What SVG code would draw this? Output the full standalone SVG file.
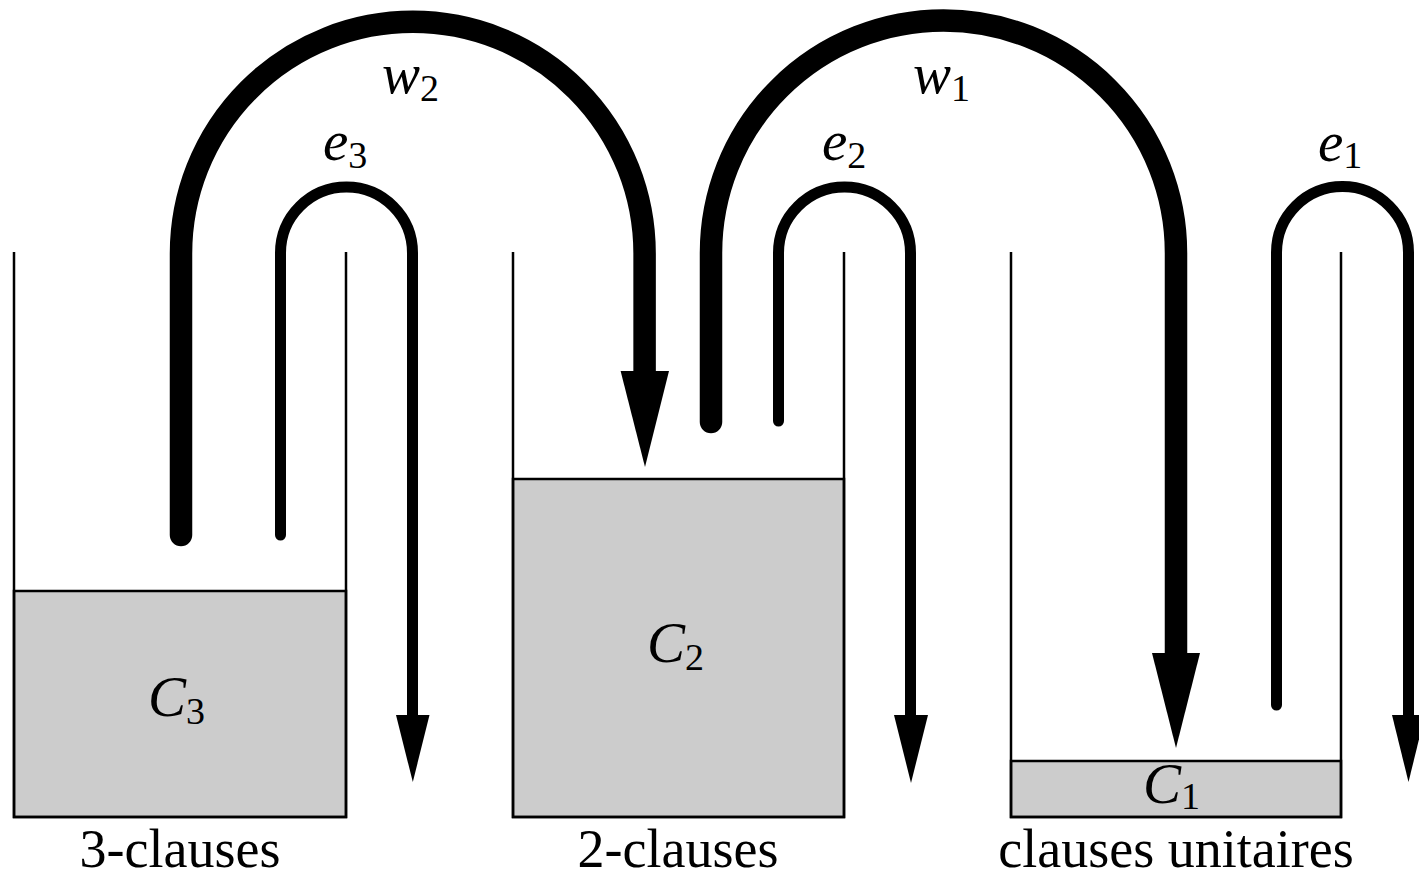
<svg xmlns="http://www.w3.org/2000/svg" width="1419" height="877" viewBox="0 0 1419 877">
  <style>
    .wall { fill: none; stroke: #000; stroke-width: 2.5; }
    .fill { fill: #cccccc; stroke: #000; stroke-width: 2.5; }
    .pipe { fill: none; stroke: #000; stroke-linecap: round; }
    .thin { stroke-width: 11; }
    .thick { stroke-width: 22.5; }
    .head { fill: #000; }
    .m { font-family: "Liberation Serif", "DejaVu Serif", serif; font-style: italic; font-size: 57px; fill: #000; }
    .sub { font-style: normal; font-size: 38px; }
    .lbl { font-family: "Liberation Serif", "DejaVu Serif", serif; font-size: 54px; fill: #000; text-anchor: middle; }
  </style>
  <rect width="1419" height="877" fill="#fff"/>

  <!-- reservoir of 3-clauses -->
  <g id="tank3">
    <rect class="fill" x="14" y="591" width="332" height="226"/>
    <path class="wall" d="M14,252 V817 H346 V252"/>
    <text class="m" x="148" y="716">C<tspan class="sub" dy="8">3</tspan></text>
    <text class="lbl" x="180" y="867">3-clauses</text>
  </g>

  <!-- reservoir of 2-clauses -->
  <g id="tank2">
    <rect class="fill" x="513" y="479" width="331" height="338"/>
    <path class="wall" d="M513,252 V817 H844 V252"/>
    <text class="m" x="647" y="662">C<tspan class="sub" dy="8">2</tspan></text>
    <text class="lbl" x="678" y="867">2-clauses</text>
  </g>

  <!-- reservoir of unit clauses -->
  <g id="tank1">
    <rect class="fill" x="1011" y="761" width="330" height="56"/>
    <path class="wall" d="M1011,252 V817 H1341 V252"/>
    <text class="m" x="1143" y="803">C<tspan class="sub" dy="6">1</tspan></text>
    <text class="lbl" x="1176" y="867">clauses unitaires</text>
  </g>

  <!-- flows between reservoirs -->
  <g id="connectors">
    <g id="e3">
      <path class="pipe thin" d="M280.5,535 V253 A66,66 0 0 1 412.5,253 V716"/>
      <polygon class="head" points="396,715 429.5,715 412.8,782"/>
      <text class="m" x="323" y="160">e<tspan class="sub" dy="8">3</tspan></text>
    </g>
    <g id="w2">
      <path class="pipe thick" d="M181,535 V253.5 A231.8,231.8 0 0 1 644.6,253.5 V372"/>
      <polygon class="head" points="620.6,371 669,371 645,467"/>
      <text class="m" x="382" y="93">w<tspan class="sub" dy="8">2</tspan></text>
    </g>
    <g id="e2">
      <path class="pipe thin" d="M778.5,421 V253 A66,66 0 0 1 910.5,253 V716"/>
      <polygon class="head" points="894,715 928,715 911,783"/>
      <text class="m" x="822" y="160">e<tspan class="sub" dy="8">2</tspan></text>
    </g>
    <g id="w1">
      <path class="pipe thick" d="M711,422 V253 A232.5,232.5 0 0 1 1176,253 V654"/>
      <polygon class="head" points="1152,653 1200,653 1176,748"/>
      <text class="m" x="913" y="93">w<tspan class="sub" dy="8">1</tspan></text>
    </g>
    <g id="e1">
      <path class="pipe thin" d="M1276.5,705 V252.5 A66,66 0 0 1 1408.5,252.5 V716"/>
      <polygon class="head" points="1392,715 1425,715 1408.5,782"/>
      <text class="m" x="1318" y="161">e<tspan class="sub" dy="7">1</tspan></text>
    </g>
  </g>
</svg>
